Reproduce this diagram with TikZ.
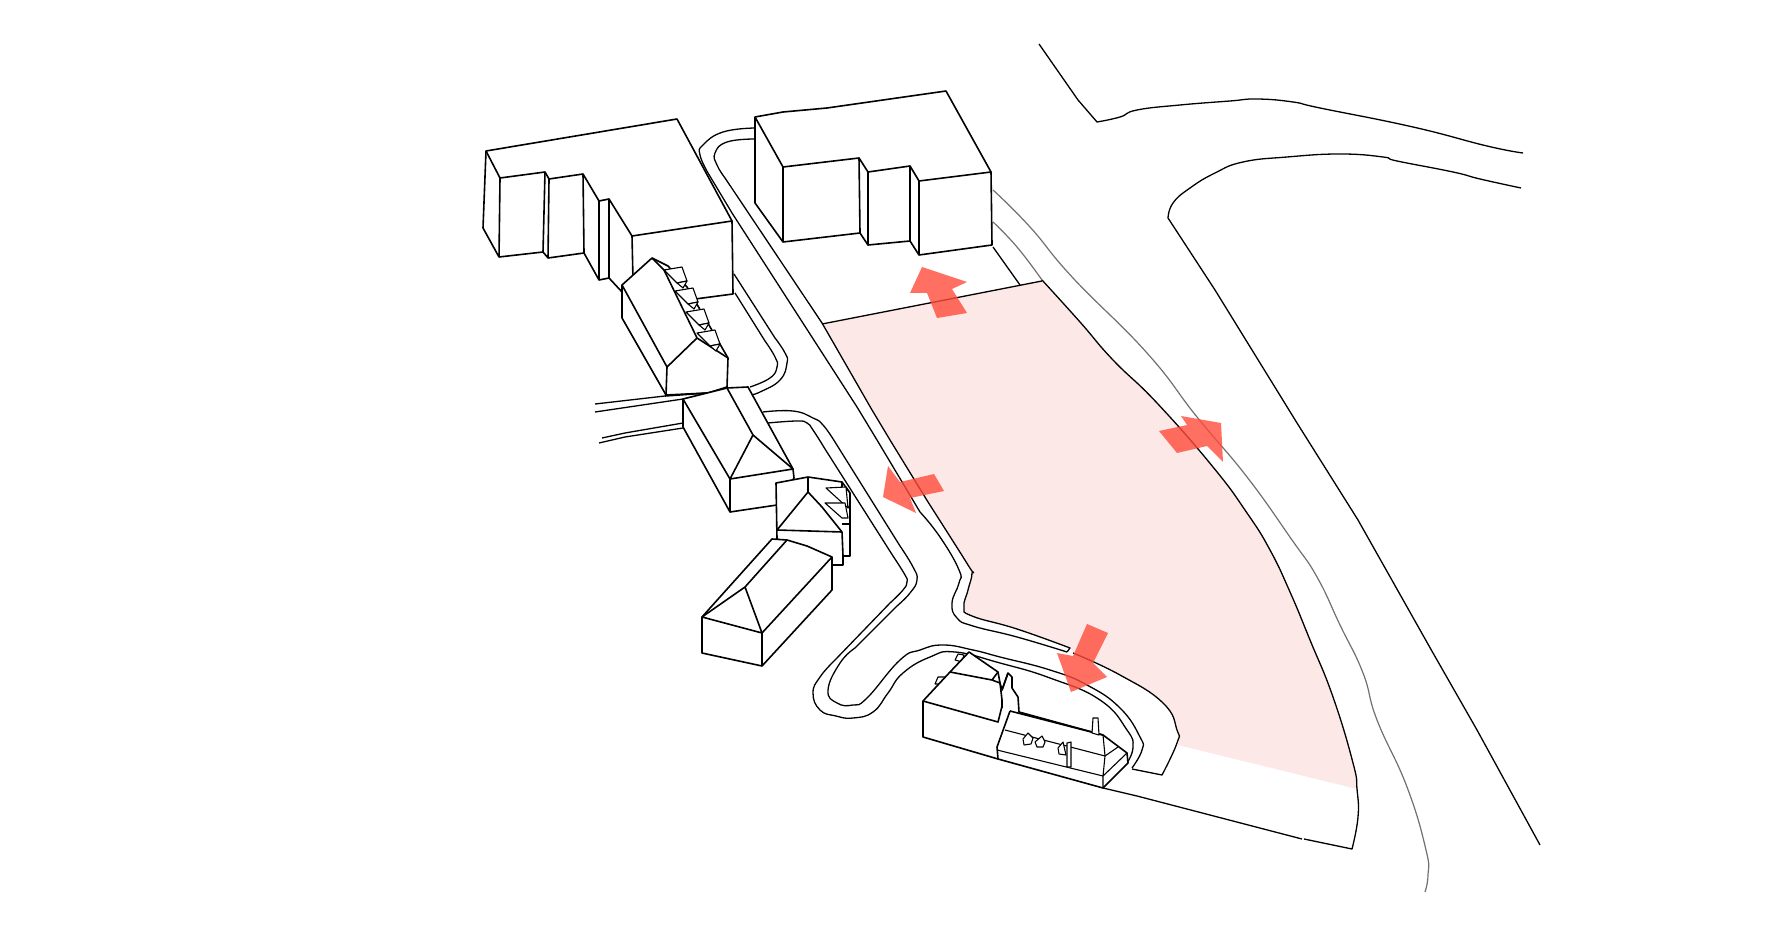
\documentclass[tikz,border=0pt]{standalone}
\usepackage{xcolor}
\definecolor{lawnpink}{HTML}{FDE8E8}
\definecolor{pushred}{HTML}{FF4C3B}
\definecolor{sidegrey}{HTML}{707070}

\begin{document}
\begin{tikzpicture}[
  x=0.5pt, y=-0.5pt,
  bldg/.style={draw, fill=white, line width=0.8pt, line join=round},
  facet/.style={line width=0.8pt, line join=round},
  thinfacet/.style={line width=0.55pt, line join=round},
  road/.style={line width=0.65pt, line join=round},
  sideroad/.style={line width=0.6pt, draw=sidegrey},
  curved/.style={smooth, tension=0.8},
  push/.style={fill=pushred, opacity=0.8}
]
  \useasboundingbox (0,0) rectangle (1770,930);

  % --- Lawn ---
  \fill[lawnpink] (822,324) -- (872,410) -- (890,440) -- (928,502) -- plot[curved] coordinates {(928,502) (968,565) (972,573) (968,590) (964,607) (972,616) (1017,629) (1070,648)}
    -- plot[curved] coordinates {(1073,652) (1120,675) (1163,703) (1177,730) (1178,745)}
    -- (1357,789)
    -- plot[curved] coordinates {(1357,789) (1353,763) (1333,697) (1310,640) (1290,592) (1270,550) (1247,513) (1213,467) (1157,403) (1113,360) (1080,322) (1042,280)}
    -- cycle;

  % --- Far roads ---
  \draw[road] (1039,44) -- (1078,100) -- (1097,122) -- plot[curved] coordinates {(1097,122) (1120,117) (1137,110) (1180,105) (1230,101) (1257,99) (1293,102) (1320,108) (1413,127) (1487,146) (1523,153)};
  \draw[road] plot[curved] coordinates {(1521,188) (1480,179) (1453,172) (1397,161) (1383,157) (1340,154) (1287,157) (1243,162) (1215,173) (1190,188) (1173,203) (1168,218)}
    -- (1215,290) -- (1297,423) -- (1358,520) -- (1433,653) -- (1477,730) -- (1540,845);

  % --- Side roads ---
  \draw[sideroad] plot[curved] coordinates {(993,190) (1030,227) (1073,278) (1147,353) (1197,417) (1247,477) (1292,540) (1317,577) (1340,625) (1363,673) (1377,720) (1407,787) (1426,850) (1428,875) (1425,892)};
  \draw[sideroad] plot[curved] coordinates {(993,222) (1017,247) (1042,280)};
  \draw[road] (993,247) -- (1020,285);

  % --- Lawn edges ---
  \draw[road] (822,324) -- (1042,281);
  \draw[road] plot[curved] coordinates {(1042,280) (1080,322) (1113,360) (1157,403) (1213,467) (1247,513) (1270,550) (1290,592) (1310,640) (1333,697) (1353,763) (1357,789) (1358,817) (1352,849)} -- (1304,839);
  \draw[road] (1302,839) -- (1137,796) -- (1103,788);
  \draw[road] plot[curved] coordinates {(755,139) (727,142) (715,153) (717,165) (725,178)} -- (822,323) -- (872,410) -- (890,440) -- (928,502)
    -- plot[curved] coordinates {(928,502) (968,565) (972,573) (968,590) (964,607) (972,616) (1017,629) (1070,648)} -- (1067,652);
  \draw[road] plot[curved] coordinates {(755,128) (723,132) (703,145) (700,155) (708,173)} -- (732,213) -- (857,407) -- (877,440) -- (920,512)
    -- plot[curved] coordinates {(920,512) (940,537) (959,570) (959,583) (952,603) (957,618) (973,626) (1017,637) (1067,652)};
  \draw[road] plot[curved] coordinates {(1073,653) (1120,675) (1163,703) (1177,730) (1177,743) (1162,775)} -- (1132,769);

  % --- Service road ---
  \draw[road] (734,274) -- plot[curved] coordinates {(775,338) (785,353) (787,363) (780,380) (760,392) (750,395)};
  \draw[road] (735,293) -- plot[curved] coordinates {(765,341) (775,357) (777,367) (770,378) (750,387)};
  \draw[road] plot[curved] coordinates {(763,412) (793,411) (813,418) (823,425) (835,442)} -- (900,546)
    -- plot[curved] coordinates {(900,546) (913,567) (917,580) (910,593) (897,606)} -- (855,648)
    -- plot[curved] coordinates {(855,648) (840,663) (828,690) (837,703) (853,705) (867,698) (900,660) (920,650) (943,645) (973,650) (1000,657) (1050,670) (1087,685) (1120,708) (1140,737) (1142,750) (1132,768)};
  \draw[road] plot[curved] coordinates {(768,423) (797,421) (807,423) (813,430) (825,449)} -- (893,556)
    -- plot[curved] coordinates {(893,556) (905,575) (907,582) (903,590) (890,603)} -- (835,660)
    -- plot[curved] coordinates {(835,660) (820,677) (813,693) (820,710) (836,716) (853,718) (873,712) (888,693) (903,673) (930,657) (955,652) (1000,663) (1050,678) (1100,700) (1127,730) (1133,747) (1127,763)};

  % --- Left access roads ---
  \draw[road] (595,404) -- (665,396);
  \draw[road] (595,412) -- (683,399);
  \draw[road] (602,438) -- (625,433) -- (683,423);
  \draw[road] (599,443) -- (625,437) -- (683,428);

  % --- Block, top middle ---
  \draw[bldg] (755,117) -- (783,112) -- (827,108) -- (946,91) -- (991,172) -- (992,245) -- (919,255) -- (910,241) -- (868,245) -- (860,233) -- (783,242) -- (755,203) -- cycle;
  \draw[facet] (755,117) -- (783,167) -- (859,158) -- (868,172) -- (910,166) -- (919,181) -- (991,172);
  \draw[facet] (783,167) -- (783,242) (859,158) -- (860,233) (868,172) -- (868,245) (910,166) -- (910,241) (919,181) -- (919,255);

  % --- Block, top left ---
  \draw[bldg] (486,151) -- (677,119) -- (732,221) -- (733,294) -- (680,301) -- (622,292) -- (609,278) -- (599,280) -- (584,253) -- (548,258) -- (543,252) -- (499,257) -- (483,228) -- cycle;
  \draw[facet] (486,151) -- (500,178) -- (545,172) -- (549,179) -- (583,174) -- (599,201) -- (609,199) -- (632,236) -- (732,221);
  \draw[facet] (500,178) -- (499,257) (545,172) -- (543,252) (549,179) -- (548,258) (583,174) -- (584,253) (599,201) -- (599,280) (609,199) -- (609,278) (632,236) -- (633,280);

  % --- House with dormers ---
  \draw[bldg] (622,285) -- (652,258) -- (668,266) -- (687,287) -- (728,358) -- (727,387) -- (708,393) -- (666,395) -- (622,318) -- cycle;
  \draw[facet] (622,285) -- (667,367) -- (666,395) (667,367) -- (697,338) -- (728,358) (652,258) -- (664,270) -- (697,338);
  \foreach \i in {0,1,2,3} {
    \begin{scope}[shift={(11*\i,21*\i)}]
      \draw[thinfacet, fill=white] (664,270) -- (682,267) -- (687,281) -- (677,283) -- cycle;
      \draw[thinfacet, fill=white] (677,283) -- (687,281) -- (683,288) -- cycle;
    \end{scope}
  }

  % --- Hipped house ---
  \draw[bldg] (683,399) -- (727,388) -- (748,387) -- (793,469) -- (794,478) -- (777,505) -- (730,512) -- (683,427) -- cycle;
  \draw[facet] (683,399) -- (730,479) -- (793,469) (727,388) -- (753,435) -- (730,479) (753,435) -- (793,469) (730,479) -- (730,512);
  \draw[facet] (707,393) -- (665,396);

  % --- Small house ---
  \draw[bldg] (776,483) -- (808,477) -- (842,482) -- (850,493) -- (850,556) -- (843,556) -- (843,565) -- (832,565) -- (777,539) -- cycle;
  \draw[facet] (808,477) -- (808,492) -- (777,530) -- (842,532) -- (822,507) -- (808,492) (842,482) -- (842,487) (842,532) -- (843,556) (842,524) -- (850,524);
  \draw[thinfacet, fill=white] (826,488) -- (846,487) -- (848,508) -- cycle;
  \draw[thinfacet, fill=white] (825,503) -- (845,503) -- (848,518) -- (842,518) -- cycle;
  \draw[thinfacet] (846,487) -- (850,493) (848,508) -- (850,505);

  % --- Long hipped house ---
  \draw[bldg] (702,617) -- (772,539) -- (787,540) -- (807,546) -- (832,557) -- (832,590) -- (762,666) -- (702,653) -- cycle;
  \draw[facet] (702,617) -- (762,633) -- (832,557) (702,617) -- (745,587) -- (787,540) (745,587) -- (762,633) -- (762,666);

  % --- Cottage ---
  \draw[thinfacet, fill=white] (955,660) -- (958,654) -- (964,655) -- (962,662) -- cycle;
  \draw[thinfacet, fill=white] (935,684) -- (938,677) -- (945,677) -- (943,684) -- cycle;
  \draw[bldg] (923,701) -- (950,672) -- (969,652) -- (998,672) -- (1000,683) -- (1002,690) -- (1008,673) -- (1012,677) -- (1012,688) -- (1018,697) -- (1019,712) -- (1103,735) -- (1127,753) -- (1128,763) -- (1103,788) -- (998,759) -- (923,737) -- cycle;
  \draw[facet] (923,701) -- (998,722) -- (1002,706) (950,672) -- (992,680) -- (998,672) (992,680) -- (1000,683) -- (1002,700) (1002,700) -- (1002,708);
  \draw[facet] (1008,673) -- (1002,690) (1010,711) -- (1103,735) (1010,711) -- (997,747) -- (998,759);
  \draw[thinfacet] (1005,730) -- (1105,756) -- (1118,747) (997,750) -- (1103,776) -- (1127,753) (1103,735) -- (1105,756) -- (1103,776) -- (1103,788);
  \draw[thinfacet, fill=white] (1092,733) -- (1093,718) -- (1098,718) -- (1099,735) -- cycle;
  \draw[thinfacet, fill=white] (1023,739) -- (1028,733) -- (1033,738) -- (1031,744) -- (1024,745) -- cycle;
  \draw[thinfacet, fill=white] (1035,742) -- (1042,736) -- (1045,742) -- (1043,747) -- (1037,747) -- cycle;
  \draw[thinfacet, fill=white] (1058,748) -- (1063,742) -- (1066,755) -- (1059,754) -- cycle;
  \draw[thinfacet, fill=white] (1067,767) -- (1067,743) -- (1071,742) -- (1071,767) -- cycle;

  % --- Arrows ---
  \fill[push] (922,267) -- (967,282) -- (952,289) -- (967,313) -- (937,318) -- (927,293) -- (910,293) -- cycle;
  \fill[push] (1159,431) -- (1187,425) -- (1181,416) -- (1221,423) -- (1223,462) -- (1207,446) -- (1177,453) -- cycle;
  \fill[push] (888,466) -- (900,482) -- (934,474) -- (944,491) -- (910,498) -- (916,513) -- (883,497) -- cycle;
  \fill[push] (1087,624) -- (1108,633) -- (1093,663) -- (1107,677) -- (1071,692) -- (1057,653) -- (1073,656) -- cycle;
\end{tikzpicture}
\end{document}
